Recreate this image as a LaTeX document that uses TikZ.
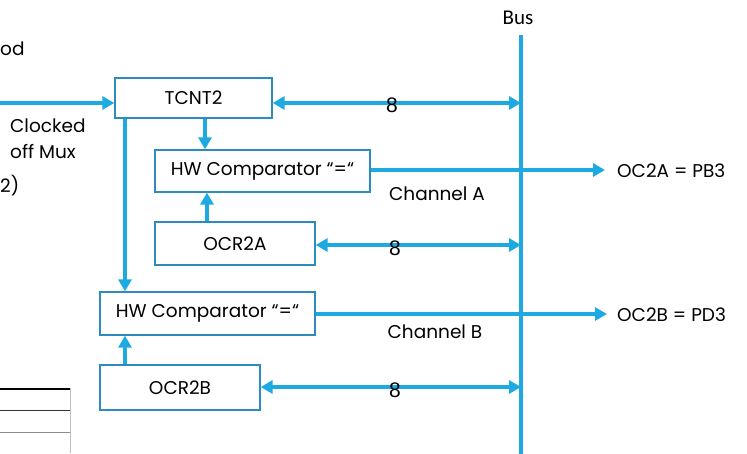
\documentclass[tikz,border=0pt]{standalone}
\usepackage{fontspec}
\setmainfont{Poppins}
\newfontfamily\busfont{Carlito}
\newfontfamily\numfont{Liberation Sans}
\usetikzlibrary{arrows.meta}
\definecolor{wire}{RGB}{29,170,226}
\definecolor{frame}{RGB}{45,140,190}
\tikzset{
  blk/.style={draw=frame, line width=1.3pt, fill=white, inner sep=0pt,
    font=\fontsize{18.5}{22}\selectfont},
  wireline/.style={draw=wire, line width=3.6pt,
    -{Triangle[length=12pt,width=13pt]}},
  busarrow/.style={draw=wire, line width=3.6pt,
    {Triangle[length=12pt,width=13pt]}-{Triangle[length=12pt,width=13pt]}},
  lbl/.style={font=\fontsize{18.5}{22}\selectfont, inner sep=0pt},
  numlbl/.style={font=\numfont\fontsize{21}{24}\selectfont, inner sep=0pt},
}
\begin{document}
\begin{tikzpicture}[x=1pt,y=-1pt]
\useasboundingbox (0,0) rectangle (747,453);

% fragments of the neighbouring slide content
\node[lbl, anchor=west] (frOd) at (0,49) {od};
\node[lbl, anchor=west] (frTwo) at (0,186) {2)};
\draw[black, line width=2pt] (0,389) -- (71,389);
\draw[black!80, line width=1.5pt] (0,410.5) -- (71,410.5);
\draw[black!45, line width=0.8pt] (0,432) -- (71,432);
\draw[black!25, line width=1.5pt] (70.5,388) -- (70.5,453);

% shared data bus
\coordinate (busTop) at (521,35);
\coordinate (busBot) at (521,455);
\draw[wire, line width=4.5pt] (busTop) -- (busBot);
\node[font=\busfont\fontsize{21}{24}\selectfont, inner sep=0pt] (busLbl) at (518,18) {Bus};
\coordinate (b1) at (521,103);
\coordinate (b2) at (521,245);
\coordinate (b3) at (521,387);

% blocks
\node[blk, minimum width=157pt, minimum height=40pt] (tcnt) at (193.5,98) {TCNT2};
\node[blk, minimum width=215pt, minimum height=42pt] (cmpA) at (262.5,171) {HW Comparator “=“};
\node[blk, minimum width=160pt, minimum height=43pt] (ocrA) at (235,243.5) {OCR2A};
\node[blk, minimum width=215pt, minimum height=43pt] (cmpB) at (207.5,313.5) {HW Comparator “=“};
\node[blk, minimum width=160pt, minimum height=45pt] (ocrB) at (180,387.5) {OCR2B};

% clock input
\coordinate (clkIn) at (0,103);
\draw[wireline] (clkIn) -- (clkIn -| tcnt.west);
\node[lbl, anchor=west] (clk1) at (10,126) {Clocked};
\node[lbl, anchor=west] (clk2) at (10,152) {off Mux};

% register <-> bus transfers
\draw[busarrow] (tcnt.east |- b1) -- (b1);
\draw[busarrow] (ocrA.east |- b2) -- (b2);
\draw[busarrow] (ocrB.east |- b3) -- (b3);
\node[numlbl] (n1) at (392,105) {8};
\node[numlbl] (n2) at (395,248) {8};
\node[numlbl] (n3) at (395,390) {8};

% comparator inputs
\coordinate (xA) at (205,0);
\coordinate (xA2) at (207,0);
\coordinate (xB) at (125,0);
\draw[wireline] (tcnt.south -| xA) -- (cmpA.north -| xA);
\draw[wireline] (ocrA.north -| xA2) -- (cmpA.south -| xA2);
\draw[wireline] (tcnt.south -| xB) -- (cmpB.north -| xB);
\draw[wireline] (ocrB.north -| xB) -- (cmpB.south -| xB);

% output compare pins
\node[lbl, anchor=west] (pinA) at (617,171) {OC2A = PB3};
\node[lbl, anchor=west] (pinB) at (617,315) {OC2B = PD3};
\draw[wireline] (cmpA.east |- 0,170) -- (605,170);
\draw[wireline] (cmpB.east |- 0,314) -- (607,314);
\node[lbl] (chA) at (437,194) {Channel A};
\node[lbl] (chB) at (435,332) {Channel B};
\end{tikzpicture}
\end{document}
